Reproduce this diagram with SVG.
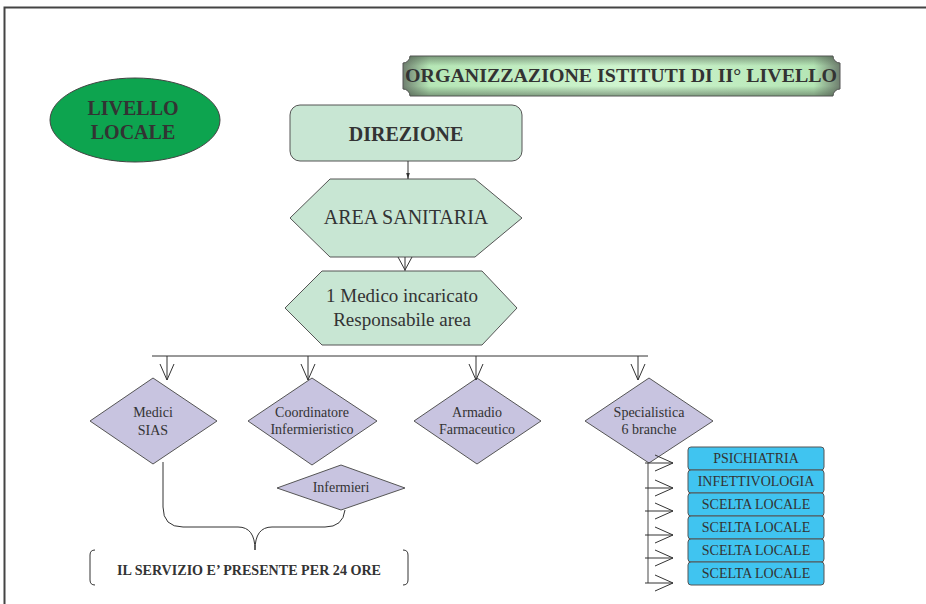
<svg xmlns="http://www.w3.org/2000/svg" width="926" height="604" viewBox="0 0 926 604">
  <style>
    text { font-family: "Liberation Serif", "Times New Roman", serif; fill: #333; text-anchor: middle; }
    .b { font-weight: bold; }
    .hex { fill: #c8e6d3; stroke: #555; stroke-width: 1; }
    .dia { fill: #c8c4e0; stroke: #555; stroke-width: 1; }
    .box { fill: #40c4f0; stroke: #555; stroke-width: 1; }
    .ln { fill: none; stroke: #333; stroke-width: 1; }
    .arr { fill: none; stroke: #333; stroke-width: 1; }
  </style>
  <defs>
    <linearGradient id="plaqueH" x1="0" y1="0" x2="1" y2="0">
      <stop offset="0" stop-color="#6f7f6f"/>
      <stop offset="0.06" stop-color="#b5e6b5"/>
      <stop offset="0.5" stop-color="#cff5cf"/>
      <stop offset="0.94" stop-color="#b5e6b5"/>
      <stop offset="1" stop-color="#6f7f6f"/>
    </linearGradient>
    <linearGradient id="plaqueV" x1="0" y1="0" x2="0" y2="1">
      <stop offset="0" stop-color="#4a5a4a" stop-opacity="0.55"/>
      <stop offset="0.25" stop-color="#4a5a4a" stop-opacity="0"/>
      <stop offset="0.75" stop-color="#4a5a4a" stop-opacity="0"/>
      <stop offset="1" stop-color="#4a5a4a" stop-opacity="0.55"/>
    </linearGradient>
    <marker id="solid" viewBox="0 0 10 10" refX="10" refY="5" markerWidth="6" markerHeight="8" orient="auto" markerUnits="userSpaceOnUse">
      <path d="M0,2 L10,5 L0,8 Z" fill="#333"/>
    </marker>
  </defs>

  <!-- page frame -->
  <path d="M4.5,604 V7.5 H926" fill="none" stroke="#444" stroke-width="2"/>

  <!-- title plaque -->
  <g id="title">
    <path d="M410,56 H833 A7,7 0 0 0 840,63 V89 A7,7 0 0 0 833,96 H410 A7,7 0 0 0 403,89 V63 A7,7 0 0 0 410,56 Z" fill="url(#plaqueH)" stroke="#555"/>
    <path d="M410,56 H833 A7,7 0 0 0 840,63 V89 A7,7 0 0 0 833,96 H410 A7,7 0 0 0 403,89 V63 A7,7 0 0 0 410,56 Z" fill="url(#plaqueV)"/>
    <text x="621" y="82" class="b" font-size="19" textLength="432" lengthAdjust="spacingAndGlyphs">ORGANIZZAZIONE ISTITUTI DI II° LIVELLO</text>
  </g>

  <!-- level badge -->
  <g id="livello">
    <ellipse cx="135" cy="120" rx="85" ry="42" fill="#0da44f" stroke="#444"/>
    <text x="133" y="115" class="b" font-size="20">LIVELLO</text>
    <text x="133" y="139" class="b" font-size="20">LOCALE</text>
  </g>

  <g id="direzione">
    <rect x="290" y="105" width="232" height="56" rx="10" class="hex"/>
    <text x="406" y="141" class="b" font-size="20">DIREZIONE</text>
  </g>

  <g id="area-sanitaria">
    <polygon points="290,218 330,179 475,179 522,218 475,257 330,257" class="hex"/>
    <text x="406" y="224" font-size="20">AREA SANITARIA</text>
  </g>

  <g id="medico">
    <polygon points="285,308 322,271 482,271 517,308 482,345 322,345" class="hex"/>
    <text x="402" y="302" font-size="19">1 Medico incaricato</text>
    <text x="402" y="326" font-size="19">Responsabile area</text>
  </g>

  <g id="medici-sias">
    <polygon points="90,421 153,378 217,421 153,464" class="dia"/>
    <text x="153" y="417" font-size="14">Medici</text>
    <text x="153" y="435" font-size="14">SIAS</text>
  </g>

  <g id="coordinatore">
    <polygon points="248,421 312,378 377,421 312,465" class="dia"/>
    <text x="312" y="417" font-size="14">Coordinatore</text>
    <text x="312" y="434" font-size="14">Infermieristico</text>
  </g>

  <g id="armadio">
    <polygon points="414,421 477,378 541,421 477,464" class="dia"/>
    <text x="477" y="417" font-size="14">Armadio</text>
    <text x="477" y="434" font-size="14">Farmaceutico</text>
  </g>

  <g id="specialistica">
    <polygon points="585,421 649,378 713,421 649,463" class="dia"/>
    <text x="649" y="417" font-size="14">Specialistica</text>
    <text x="649" y="434" font-size="14">6 branche</text>
  </g>

  <g id="infermieri">
    <polygon points="277,488 341,465 405,488 341,510" class="dia"/>
    <text x="341" y="492" font-size="14">Infermieri</text>
  </g>

  <g id="servizio">
    <path d="M95,550 Q90,550 90,555 V580 Q90,585 95,585" class="ln"/>
    <path d="M403,550 Q408,550 408,555 V580 Q408,585 403,585" class="ln"/>
    <text x="249" y="575" class="b" font-size="14" textLength="264" lengthAdjust="spacingAndGlyphs">IL SERVIZIO E’ PRESENTE PER 24 ORE</text>
  </g>

  <g id="branche">
    <rect x="688" y="447" width="136" height="23" rx="3" class="box"/>
    <text x="756" y="463" font-size="14">PSICHIATRIA</text>
    <rect x="688" y="470" width="136" height="23" rx="3" class="box"/>
    <text x="756" y="486" font-size="14">INFETTIVOLOGIA</text>
    <rect x="688" y="493" width="136" height="23" rx="3" class="box"/>
    <text x="756" y="509" font-size="14">SCELTA LOCALE</text>
    <rect x="688" y="516" width="136" height="23" rx="3" class="box"/>
    <text x="756" y="532" font-size="14">SCELTA LOCALE</text>
    <rect x="688" y="539" width="136" height="23" rx="3" class="box"/>
    <text x="756" y="555" font-size="14">SCELTA LOCALE</text>
    <rect x="688" y="562" width="136" height="23" rx="3" class="box"/>
    <text x="756" y="578" font-size="14">SCELTA LOCALE</text>
  </g>

  <g id="connectors">
    <!-- DIREZIONE to AREA SANITARIA -->
    <line x1="408" y1="161" x2="408" y2="179" class="ln" marker-end="url(#solid)"/>
    <!-- AREA SANITARIA to Medico -->
    <line x1="405" y1="257" x2="405" y2="271" class="ln"/>
    <path d="M398,257 L405,270 L412,257" class="arr"/>
    <!-- distribution bar -->
    <line x1="152" y1="356" x2="648" y2="356" class="ln"/>
    <line x1="167" y1="356" x2="167" y2="380" class="ln"/>
    <path d="M160,364 L167,380 L174,364" class="arr"/>
    <line x1="308" y1="356" x2="308" y2="380" class="ln"/>
    <path d="M301,364 L308,380 L315,364" class="arr"/>
    <line x1="476" y1="356" x2="476" y2="380" class="ln"/>
    <path d="M469,364 L476,380 L483,364" class="arr"/>
    <line x1="638" y1="356" x2="638" y2="380" class="ln"/>
    <path d="M631,364 L638,380 L645,364" class="arr"/>
    <!-- brace joining SIAS and Infermieri -->
    <path d="M163,462 V507 Q163,527 183,527 H238 Q255,527 255,550" class="ln"/>
    <path d="M345,510 Q343,527 325,527 H272 Q255,527 255,550" class="ln"/>
    <!-- specialistica branches -->
    <line x1="648" y1="463" x2="648" y2="583" stroke="#666" stroke-width="1.2"/>
    <g class="arr">
      <path d="M645,463 H673 M655,455 L673,463 L655,471"/>
      <path d="M645,488 H673 M655,480 L673,488 L655,496"/>
      <path d="M645,511 H673 M655,503 L673,511 L655,519"/>
      <path d="M645,535 H673 M655,527 L673,535 L655,543"/>
      <path d="M645,558 H673 M655,550 L673,558 L655,566"/>
      <path d="M645,583 H673 M655,575 L673,583 L655,591"/>
    </g>
  </g>
</svg>
